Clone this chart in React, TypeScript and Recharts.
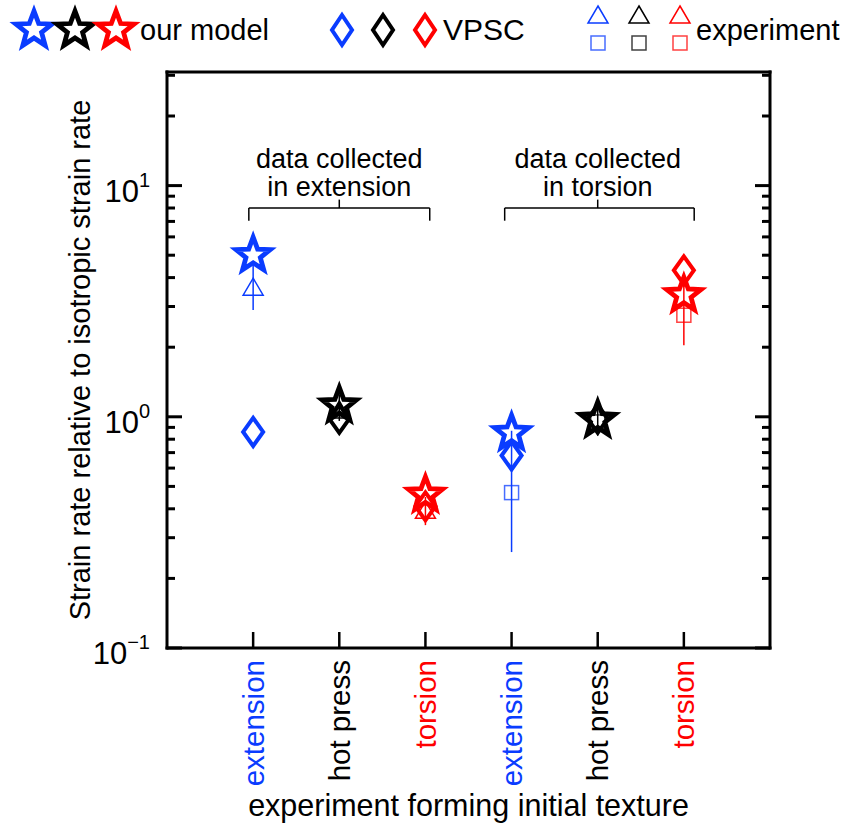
import React from 'react';
import { ComposedChart, Scatter, XAxis, YAxis, ErrorBar, ReferenceLine, ReferenceDot } from 'recharts';

// texture-forming experiment, one per slot on the x axis
const categories = ['extension', 'hot press', 'torsion', 'extension', 'hot press', 'torsion'];
const categoryColors = ['#0a3cff', '#000000', '#ff0000', '#0a3cff', '#000000', '#ff0000'];

// strain rate relative to isotropic strain rate
const modelValues = [5.0, 1.12, 0.46, 0.85, 0.97, 3.36];
const vpscValues = [0.86, 0.98, 0.41, 0.68, 0.98, 4.3];
const experimentValues = [3.6, 1.06, 0.39, 0.47, 0.95, 2.75];
const experimentLow = [2.9, 0.96, 0.34, 0.26, 0.83, 2.04];
const experimentHigh = [4.6, 1.25, 0.45, 0.87, 1.18, 3.9];

const yTicks = [0.1, 0.2, 0.3, 0.4, 0.5, 0.6, 0.7, 0.8, 0.9, 1, 2, 3, 4, 5, 6, 7, 8, 9, 10, 20, 30];
const yMajorTicks = [0.1, 1, 10];
const yMajorExponents = ['\u22121', '0', '1'];
const xTicks = [1, 2, 3, 4, 5, 6];

// brackets over the two groups
const bracketStarts = [0.95, 3.92];
const bracketEnds = [3.05, 6.12];
const bracketCenters = [2, 5];
const bracketTitles = [['data collected', 'in extension'], ['data collected', 'in torsion']];
const bracketLevel = 8;
const bracketFootLevel = 7.05;
const bracketTopLevel = 8.7;
const annotationLevel = 11.5;

const FONT = '"Liberation Sans", Arial, Helvetica, sans-serif';
const W = 845;
const H = 827;
const PL = 167;
const PR = 770;
const PT = 72;
const PB = 648;
const BLUE = '#0a3cff';
const RED = '#ff0000';

const rows = categories.map((c, i) => ({
  x: i + 1,
  name: c,
  color: categoryColors[i],
  kind: i < 3 ? 'triangle' : 'square',
  model: modelValues[i],
  vpsc: vpscValues[i],
  exp: experimentValues[i],
  err: [experimentValues[i] - experimentLow[i], experimentHigh[i] - experimentValues[i]],
}));
const colorGroups = [BLUE, '#000000', RED];

const starPath = (cx: number, cy: number, R: number, r: number) => {
  const pts: string[] = [];
  for (let k = 0; k < 10; k++) {
    const a = -Math.PI / 2 + (k * Math.PI) / 5;
    const rad = k % 2 === 0 ? R : r;
    pts.push(`${cx + rad * Math.cos(a)},${cy + rad * Math.sin(a)}`);
  }
  return 'M' + pts.join('L') + 'Z';
};

const Star = ({ cx, cy, color, R = 18 }: any) => (
  <path d={starPath(cx, cy, R, R * 0.42)} fill="none" stroke={color} strokeWidth={4.8} strokeLinejoin="miter" />
);
const Diamond = ({ cx, cy, color, h = 14 }: any) => (
  <path d={`M${cx},${cy - h}L${cx + 10},${cy}L${cx},${cy + h}L${cx - 10},${cy}Z`} fill="none" stroke={color} strokeWidth={4} />
);
const Triangle = ({ cx, cy, color }: any) => (
  <path d={`M${cx},${cy - 10}L${cx + 10},${cy + 7}L${cx - 10},${cy + 7}Z`} fill="none" stroke={color} strokeWidth={1.5} />
);
const Square = ({ cx, cy, color }: any) => (
  <rect x={cx - 7} y={cy - 7} width={14} height={14} fill="none" stroke={color} strokeWidth={1.5} strokeOpacity={0.75} />
);

const LeftTick = (props: any) => {
  const v = props.payload.value;
  const y = props.payload.coordinate;
  const mi = yMajorTicks.indexOf(v);
  const major = mi >= 0;
  return (
    <g>
      <line x1={PL} x2={PL + (major ? 15 : 8)} y1={y} y2={y} stroke="#000" strokeWidth={3} />
      {major && (
        <text x={PL - 17} y={y + 16} textAnchor="end" fontFamily={FONT} fontSize={31} fill="#000">
          10
          <tspan dy={-15} fontSize={20}>{yMajorExponents[mi]}</tspan>
        </text>
      )}
    </g>
  );
};

const RightTick = (props: any) => {
  const v = props.payload.value;
  const y = props.payload.coordinate;
  const major = yMajorTicks.includes(v);
  return <line x1={PR} x2={PR - (major ? 15 : 8)} y1={y} y2={y} stroke="#000" strokeWidth={3} />;
};

const BottomTick = (props: any) => {
  const x = props.payload.coordinate;
  const i = props.index;
  return (
    <g>
      <line x1={x} x2={x} y1={PB} y2={PB - 16} stroke="#000" strokeWidth={2.5} />
      <text
        x={x}
        y={660}
        transform={`rotate(-90, ${x}, 660)`}
        textAnchor="end"
        dominantBaseline="central"
        fontFamily={FONT}
        fontSize={29.5}
        fill={categoryColors[i]}
      >
        {categories[i]}
      </text>
    </g>
  );
};

const TopTick = (props: any) => {
  const x = props.payload.coordinate;
  return <line x1={x} x2={x} y1={PT} y2={PT + 16} stroke="#000" strokeWidth={2.5} />;
};

const Legend = () => (
  <svg width={W} height={60} style={{ position: 'absolute', left: 0, top: 0 }}>
    <Star cx={34} cy={30} color={BLUE} R={19} />
    <Star cx={75} cy={30} color="#000" R={19} />
    <Star cx={116} cy={30} color={RED} R={19} />
    <text x={140} y={40} fontFamily={FONT} fontSize={29}>our model</text>
    <Diamond cx={342} cy={30} color={BLUE} h={15} />
    <Diamond cx={383} cy={30} color="#000" h={15} />
    <Diamond cx={425} cy={30} color={RED} h={15} />
    <text x={443} y={40} fontFamily={FONT} fontSize={30}>VPSC</text>
    <Triangle cx={598} cy={16} color={BLUE} />
    <Triangle cx={639} cy={16} color="#000" />
    <Triangle cx={680} cy={16} color={RED} />
    <Square cx={598} cy={43} color={BLUE} />
    <Square cx={639} cy={43} color="#000" />
    <Square cx={680} cy={43} color={RED} />
    <text x={696} y={40} fontFamily={FONT} fontSize={29}>experiment</text>
  </svg>
);

export default function App() {
  const axisLine = { stroke: '#000', strokeWidth: 3, strokeLinecap: 'square' as const };
  return (
    <div style={{ position: 'absolute', left: 0, top: 0, width: W, height: H, background: '#fff' }}>
      <ComposedChart width={W} height={H} margin={{ top: PT - 1, right: W - PR - 1, left: 0, bottom: 0 }}>
        <XAxis
          type="number"
          dataKey="x"
          domain={[0, 7]}
          ticks={xTicks}
          interval={0}
          height={H - PB}
          axisLine={axisLine}
          tickLine={false}
          tick={BottomTick}
          label={{
            content: () => (
              <text x={(PL + PR) / 2} y={816} textAnchor="middle" fontFamily={FONT} fontSize={30.5} fill="#000">
                experiment forming initial texture
              </text>
            ),
          }}
        />
        <XAxis
          xAxisId="top"
          orientation="top"
          type="number"
          dataKey="x"
          domain={[0, 7]}
          ticks={xTicks}
          interval={0}
          height={1}
          axisLine={axisLine}
          tickLine={false}
          tick={TopTick}
        />
        <YAxis
          type="number"
          scale="log"
          domain={[0.1, 31]}
          allowDataOverflow
          ticks={yTicks}
          interval={0}
          width={PL}
          axisLine={axisLine}
          tickLine={false}
          tick={LeftTick}
          label={{
            content: () => (
              <text
                x={80}
                y={(PT + PB) / 2}
                transform={`rotate(-90, 80, ${(PT + PB) / 2})`}
                textAnchor="middle"
                dominantBaseline="central"
                fontFamily={FONT}
                fontSize={29}
                fill="#000"
              >
                Strain rate relative to isotropic strain rate
              </text>
            ),
          }}
        />
        <YAxis
          yAxisId="right"
          orientation="right"
          type="number"
          scale="log"
          domain={[0.1, 31]}
          allowDataOverflow
          ticks={yTicks}
          interval={0}
          width={1}
          axisLine={axisLine}
          tickLine={false}
          tick={RightTick}
        />

        {bracketStarts.map((s, i) => (
          <ReferenceLine key={`bh${i}`} segment={[{ x: s, y: bracketLevel }, { x: bracketEnds[i], y: bracketLevel }]} stroke="#000" strokeWidth={1.5} />
        ))}
        {bracketStarts.map((s, i) => (
          <ReferenceLine key={`bl${i}`} segment={[{ x: s, y: bracketLevel }, { x: s, y: bracketFootLevel }]} stroke="#000" strokeWidth={1.5} />
        ))}
        {bracketEnds.map((e, i) => (
          <ReferenceLine key={`br${i}`} segment={[{ x: e, y: bracketLevel }, { x: e, y: bracketFootLevel }]} stroke="#000" strokeWidth={1.5} />
        ))}
        {bracketCenters.map((c, i) => (
          <ReferenceLine key={`bc${i}`} segment={[{ x: c, y: bracketLevel }, { x: c, y: bracketTopLevel }]} stroke="#000" strokeWidth={1.5} />
        ))}
        {bracketCenters.map((c, i) => (
          <ReferenceDot
            key={`bt${i}`}
            x={c}
            y={annotationLevel}
            r={0}
            shape={(p: any) => (
              <text x={p.cx} y={p.cy} textAnchor="middle" fontFamily={FONT} fontSize={27} fill="#000">
                <tspan x={p.cx} dy={-4}>{bracketTitles[i][0]}</tspan>
                <tspan x={p.cx} dy={28}>{bracketTitles[i][1]}</tspan>
              </text>
            )}
          />
        ))}

        {colorGroups.map((col) => (
          <Scatter
            key={`exp${col}`}
            data={rows.filter((r) => r.color === col)}
            dataKey="exp"
            isAnimationActive={false}
            shape={(p: any) =>
              p.payload.kind === 'triangle' ? (
                <Triangle cx={p.cx} cy={p.cy} color={col} />
              ) : (
                <Square cx={p.cx} cy={p.cy} color={col} />
              )
            }
          >
            <ErrorBar dataKey="err" direction="y" width={0} stroke={col} strokeWidth={1.5} />
          </Scatter>
        ))}
        {colorGroups.map((col) => (
          <Scatter
            key={`vpsc${col}`}
            data={rows.filter((r) => r.color === col)}
            dataKey="vpsc"
            isAnimationActive={false}
            shape={(p: any) => <Diamond cx={p.cx} cy={p.cy} color={col} />}
          />
        ))}
        {colorGroups.map((col) => (
          <Scatter
            key={`model${col}`}
            data={rows.filter((r) => r.color === col)}
            dataKey="model"
            isAnimationActive={false}
            shape={(p: any) => <Star cx={p.cx} cy={p.cy} color={col} />}
          />
        ))}
      </ComposedChart>
      <Legend />
    </div>
  );
}
